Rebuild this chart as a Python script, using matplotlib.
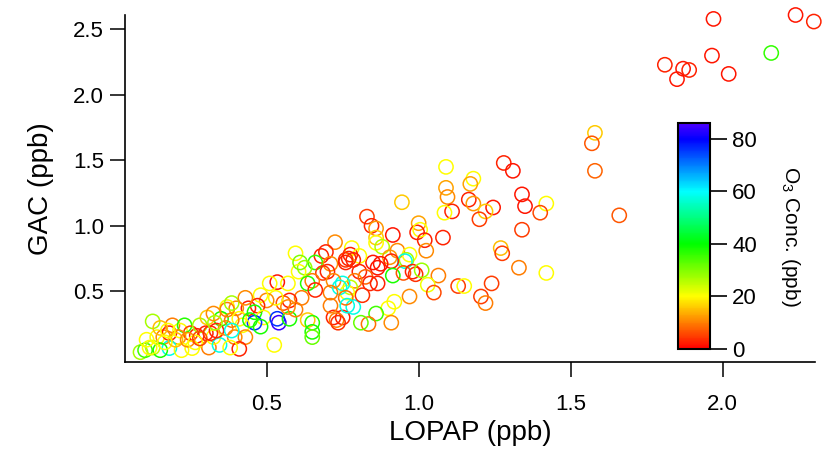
import matplotlib
matplotlib.use("Agg")
import matplotlib.pyplot as plt
import numpy as np
from matplotlib.colors import LinearSegmentedColormap, Normalize
from matplotlib.cm import ScalarMappable

plt.rcParams['font.family'] = ['Liberation Sans', 'DejaVu Sans']
plt.rcParams['mathtext.default'] = 'regular'

# LOPAP HONO (ppb)
lopap = [1.97, 2.24, 2.30, 2.16, 1.965, 1.81, 1.87, 1.89, 1.85, 2.02,
         1.58, 1.57, 1.58, 1.66,
         1.28, 1.31, 1.18, 1.17, 1.165, 1.18, 1.34, 1.35, 1.42, 1.40,
         1.245, 1.22, 1.20, 1.34, 1.27, 1.275, 1.33, 1.42, 1.13, 1.15,
         1.24, 1.205, 1.22, 1.09, 1.09, 1.095, 1.11, 1.085,
         0.945, 0.83, 0.845, 0.86, 0.915, 1.00, 0.995, 1.005, 1.02, 1.08,
         1.025, 0.86, 0.86, 0.88, 0.78, 0.775, 0.93, 0.97, 0.96, 0.955,
         0.905, 0.91, 0.875, 0.85, 0.865, 0.805, 0.77, 0.785, 0.76,
         0.915, 0.95, 0.98, 0.99, 1.01, 1.065, 1.03, 1.05, 0.97, 0.92,
         0.90, 0.91, 0.86, 0.835, 0.81, 0.785, 0.805, 0.825, 0.84, 0.865,
         0.79, 0.775, 0.815, 0.765, 0.75, 0.75,
         0.725, 0.595, 0.68, 0.695, 0.66, 0.71, 0.76, 0.70, 0.685, 0.625,
         0.605, 0.65, 0.535, 0.51, 0.57, 0.635, 0.72, 0.74, 0.76, 0.71,
         0.66, 0.615, 0.575, 0.555, 0.53, 0.50, 0.48, 0.47, 0.44, 0.40,
         0.46, 0.49, 0.54, 0.535, 0.575, 0.46, 0.48, 0.42, 0.395, 0.43,
         0.41, 0.525, 0.635, 0.65, 0.65, 0.65, 0.72, 0.73, 0.735, 0.765,
         0.71, 0.595, 0.57,
         0.125, 0.37, 0.35, 0.37, 0.085, 0.10, 0.125, 0.105, 0.14, 0.16,
         0.18, 0.19, 0.215, 0.23, 0.25, 0.27, 0.28, 0.30, 0.21, 0.18,
         0.22, 0.255, 0.31, 0.325, 0.345, 0.38, 0.305, 0.325, 0.15, 0.115,
         0.165, 0.20, 0.24, 0.265, 0.28, 0.315, 0.335, 0.365, 0.15, 0.175,
         0.33, 0.385, 0.41, 0.445, 0.385, 0.385, 0.43, 0.61]

# GAC HONO (ppb)
gac = [2.58, 2.61, 2.56, 2.32, 2.30, 2.23, 2.20, 2.19, 2.12, 2.16,
       1.71, 1.63, 1.42, 1.08,
       1.48, 1.42, 1.36, 1.32, 1.20, 1.17, 1.24, 1.15, 1.17, 1.10,
       1.14, 1.11, 1.05, 0.97, 0.83, 0.79, 0.68, 0.64, 0.54, 0.54,
       0.56, 0.46, 0.41, 1.45, 1.29, 1.22, 1.11, 1.10,
       1.18, 1.07, 1.00, 0.98, 0.93, 1.02, 0.95, 0.97, 0.89, 0.91,
       0.81, 0.91, 0.87, 0.84, 0.83, 0.78, 0.81, 0.78, 0.74, 0.73,
       0.76, 0.73, 0.71, 0.72, 0.68, 0.77, 0.75, 0.74, 0.74,
       0.62, 0.64, 0.65, 0.63, 0.66, 0.62, 0.55, 0.49, 0.46, 0.42,
       0.37, 0.26, 0.33, 0.25, 0.26, 0.38, 0.65, 0.61, 0.56, 0.56,
       0.58, 0.53, 0.47, 0.49, 0.56, 0.30,
       0.875, 0.79, 0.77, 0.80, 0.72, 0.71, 0.72, 0.65, 0.64, 0.68,
       0.65, 0.58, 0.57, 0.56, 0.56, 0.56, 0.58, 0.53, 0.45, 0.49,
       0.51, 0.45, 0.43, 0.41, 0.45, 0.43, 0.47, 0.39, 0.37, 0.37,
       0.34, 0.30, 0.26, 0.29, 0.29, 0.26, 0.23, 0.24, 0.15, 0.15,
       0.06, 0.09, 0.28, 0.26, 0.19, 0.15, 0.30, 0.28, 0.26, 0.39,
       0.39, 0.36, 0.38,
       0.27, 0.38, 0.29, 0.36, 0.035, 0.05, 0.07, 0.13, 0.15, 0.15,
       0.18, 0.24, 0.20, 0.24, 0.18, 0.16, 0.24, 0.18, 0.15, 0.066,
       0.05, 0.066, 0.07, 0.15, 0.09, 0.07, 0.30, 0.33, 0.05, 0.07,
       0.11, 0.13, 0.13, 0.11, 0.14, 0.18, 0.20, 0.22, 0.22, 0.20,
       0.26, 0.28, 0.29, 0.28, 0.20, 0.41, 0.45, 0.72]

# O3 concentration (ppb)
o3 = [2, 2, 3, 36, 2, 3, 2, 3, 2, 2,
      16, 7, 8, 7,
      3, 2, 20, 13, 3, 12, 2, 2, 20, 6,
      2, 16, 5, 5, 15, 5, 10, 20, 5, 20,
      5, 5, 10, 20, 13, 11, 3, 20,
      16, 5, 3, 12, 2, 13, 3, 20, 3, 3,
      11, 16, 20, 26, 20, 3, 11, 20, 27, 58,
      12, 3, 2, 2, 2, 20, 3, 3, 4,
      38, 7, 3, 4, 28, 10, 21, 6, 11, 20,
      20, 11, 35, 9, 32, 58, 3, 8, 3, 3,
      10, 25, 4, 20, 58, 3,
      11, 20, 3, 3, 36, 11, 3, 3, 5, 28,
      20, 10, 2, 20, 20, 37, 11, 58, 9, 10,
      3, 10, 3, 7, 20, 11, 20, 3, 3, 11,
      38, 20, 84, 76, 38, 76, 38, 20, 11, 11,
      3, 20, 16, 37, 38, 32, 3, 10, 4, 58,
      10, 10, 11,
      27, 20, 38, 10, 27, 35, 25, 20, 20, 11,
      3, 10, 20, 37, 5, 3, 27, 3, 11, 58,
      20, 20, 10, 20, 58, 20, 16, 11, 38, 20,
      20, 15, 11, 20, 6, 4, 3, 11, 15, 20,
      27, 10, 20, 38, 58, 27, 11, 30]

cbar_ticks = [0, 20, 40, 60, 80]
o3_max = 86

cmap = LinearSegmentedColormap.from_list(
    "igor_rainbow",
    [(0.0, (1, 0, 0)), (20 / o3_max, (1, 1, 0)), (40 / o3_max, (0, 1, 0)),
     (60 / o3_max, (0, 1, 1)), (80 / o3_max, (0, 0, 1)), (1.0, (0.3, 0, 1))])
norm = Normalize(vmin=0, vmax=o3_max)

fig = plt.figure(figsize=(8.24, 4.49), dpi=100)
ax = fig.add_axes([0.1517, 0.1938, 0.8374, 0.7728])

edge = cmap(norm(np.array(o3)))
ax.scatter(lopap, gac, s=105, facecolors='none', edgecolors=edge,
           linewidths=1.1, clip_on=False, zorder=3)

ax.set_xlim(0.034, 2.304)
ax.set_ylim(-0.04, 2.61)
ax.set_xticks([0.5, 1.0, 1.5, 2.0])
ax.set_yticks([0.5, 1.0, 1.5, 2.0, 2.5])
ax.xaxis.set_major_formatter(matplotlib.ticker.FormatStrFormatter('%.1f'))
ax.yaxis.set_major_formatter(matplotlib.ticker.FormatStrFormatter('%.1f'))
for s in ['top', 'right']:
    ax.spines[s].set_visible(False)
for s in ['left', 'bottom']:
    ax.spines[s].set_linewidth(1.2)
ax.tick_params(direction='out', length=11, width=1.1, labelsize=16)
ax.tick_params(axis='x', pad=12)
ax.tick_params(axis='y', pad=4)
ax.set_xlabel('LOPAP (ppb)', fontsize=20, labelpad=4)
ax.set_ylabel('GAC (ppb)', fontsize=20, labelpad=14)

cax = fig.add_axes([0.823, 0.2227, 0.0388, 0.503])
sm = ScalarMappable(norm=norm, cmap=cmap)
cb = fig.colorbar(sm, cax=cax)
cb.set_ticks(cbar_ticks)
cb.outline.set_linewidth(1.5)
cb.ax.tick_params(length=12, width=1.2, labelsize=16, pad=4)
cb.set_label(r'O$_3$ Conc. (ppb)', rotation=270, fontsize=15, labelpad=32)

fig.savefig('out.png', dpi=100)
